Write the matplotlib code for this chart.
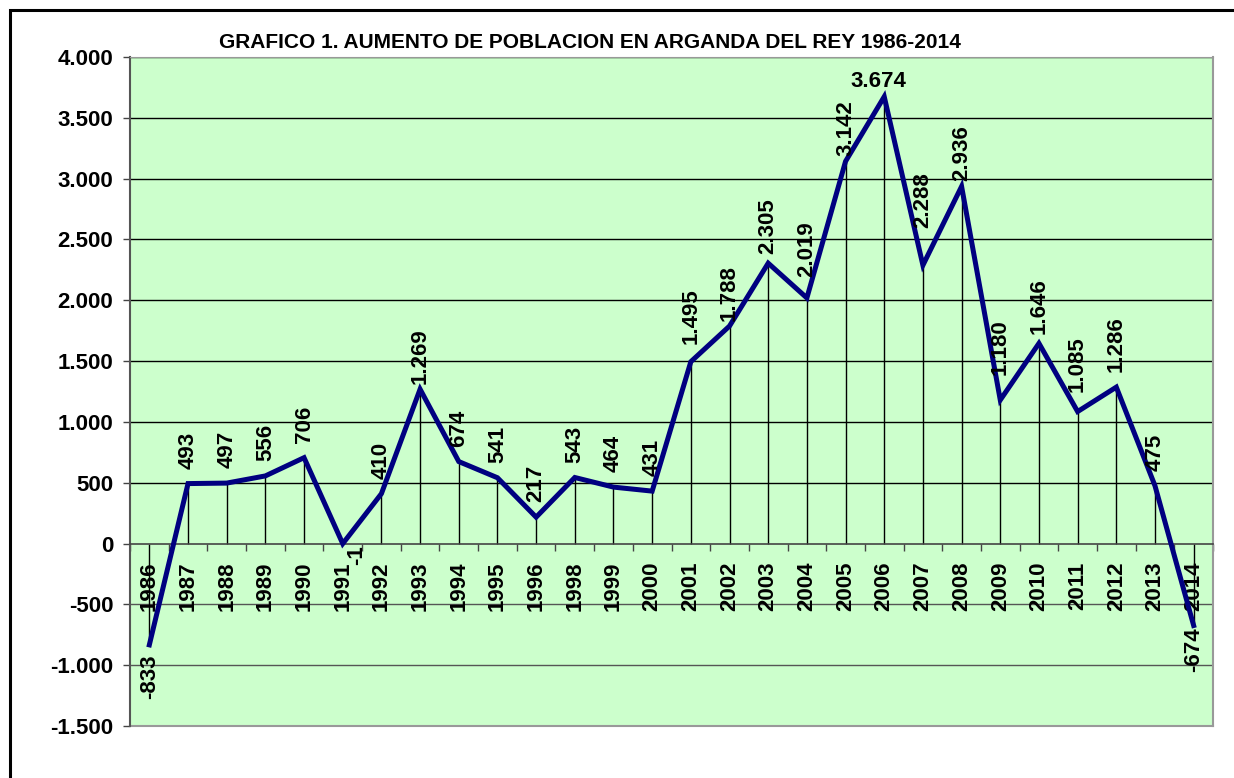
import matplotlib
matplotlib.use('Agg')
import matplotlib.pyplot as plt
from matplotlib.patches import Rectangle
from matplotlib.ticker import FuncFormatter

years = ['1986', '1987', '1988', '1989', '1990', '1991', '1992', '1993', '1994', '1995',
         '1996', '1998', '1999', '2000', '2001', '2002', '2003', '2004', '2005', '2006',
         '2007', '2008', '2009', '2010', '2011', '2012', '2013', '2014']
aumento = [-833, 493, 497, 556, 706, -1, 410, 1269, 674, 541,
           217, 543, 464, 431, 1495, 1788, 2305, 2019, 3142, 3674,
           2288, 2936, 1180, 1646, 1085, 1286, 475, -674]
y_ticks = [-1500, -1000, -500, 0, 500, 1000, 1500, 2000, 2500, 3000, 3500, 4000]

titulo = 'GRAFICO 1. AUMENTO DE POBLACION EN ARGANDA DEL REY 1986-2014'

# las etiquetas en los valles quedan algo mas arriba (puntos)
extra_sep = {'2001': 9, '2003': 3, '2004': 11, '2007': 23, '2009': 14,
             '2010': 3, '2011': 10, '2012': 7}


def fmt(v):
    return f'{v:,.0f}'.replace(',', '.')


plt.rcParams['font.family'] = ['Liberation Sans', 'DejaVu Sans']
plt.rcParams['font.weight'] = 'bold'

fig = plt.figure(figsize=(12.34, 7.78), dpi=100)
fig.patches.append(Rectangle((10 / 1234, -0.1), 1.2, (778 - 10) / 778 + 0.1,
                             transform=fig.transFigure, fill=False,
                             edgecolor='black', linewidth=2.2))

ax = fig.add_axes([130 / 1234, 52 / 778, 1083 / 1234, 669 / 778])
ax.set_facecolor('#ccffcc')

x = list(range(len(years)))
ax.set_xlim(-0.5, len(years) - 0.5)
ax.set_ylim(-1500, 4000)

# lineas de division
for t in y_ticks[1:]:
    if t == 0:
        continue
    ax.axhline(t, color='black' if t > 0 else '#555555', linewidth=1, zorder=1)

# lineas de caida
ax.vlines(x, 0, aumento, color='black', linewidth=1, zorder=2)

ax.plot(x, aumento, color='#000080', linewidth=3.6, solid_joinstyle='miter', zorder=3)

# etiquetas de datos
fs = 16
for i, v in enumerate(aumento):
    if years[i] == '2006':
        ax.annotate(fmt(v), (i, v), xytext=(-4, 3), textcoords='offset points',
                    ha='center', va='bottom', fontsize=fs, fontweight='bold', zorder=4)
    elif years[i] == '1991':
        ax.annotate(fmt(v), (i, v), xytext=(10, -1), textcoords='offset points',
                    ha='center', va='top', rotation=90, fontsize=fs, fontweight='bold', zorder=4)
    elif v >= 0:
        dy = 24 + extra_sep.get(years[i], 0)
        ax.annotate(fmt(v), (i, v), xytext=(0, dy), textcoords='offset points',
                    ha='center', va='center', rotation=90, fontsize=fs, fontweight='bold', zorder=4)
    else:
        dy = -7 if years[i] == '1986' else -1
        ax.annotate(fmt(v), (i, v), xytext=(0, dy), textcoords='offset points',
                    ha='center', va='top', rotation=90, fontsize=fs, fontweight='bold', zorder=4)

# eje de categorias en y=0
ax.spines['bottom'].set_position(('data', 0))
ax.spines['bottom'].set_color('#444444')
ax.spines['bottom'].set_linewidth(1.2)
ax.spines['left'].set_color('#555555')
ax.spines['left'].set_linewidth(1.5)
ax.spines['top'].set_color('#999999')
ax.spines['right'].set_color('#999999')
ax.spines['right'].set_linewidth(1.5)

ax.set_xticks(x)
ax.set_xticklabels(years, rotation=90, fontsize=fs, fontweight='bold')
ax.set_xticks([i - 0.5 for i in range(len(years) + 1)], minor=True)
ax.tick_params(axis='x', which='major', length=0, pad=13)
ax.tick_params(axis='x', which='minor', length=5, width=1, color='#444444')

ax.set_yticks(y_ticks)
ax.yaxis.set_major_formatter(FuncFormatter(lambda v, p: fmt(v)))
ax.tick_params(axis='y', length=5, width=1, color='#444444', pad=7, labelsize=fs)
for lab in ax.get_yticklabels():
    lab.set_fontweight('bold')

# borde inferior del area de trazado
ax.axhline(-1500, color='#999999', linewidth=1.5, zorder=1, clip_on=False)

fig.text(590 / 1234, 1 - 42 / 778, titulo, ha='center', va='center',
         fontsize=15, fontweight='bold')

fig.savefig('out.png', dpi=100)
